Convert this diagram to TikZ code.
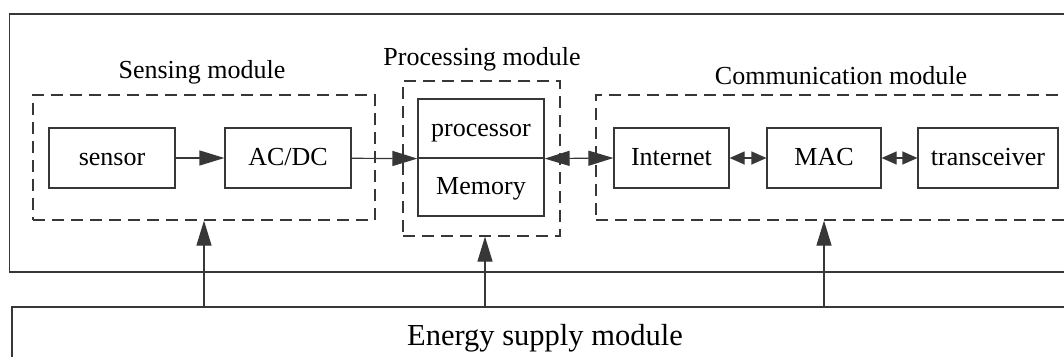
\documentclass[tikz,border=0pt]{standalone}
\usepackage{fontspec}
\setmainfont{Liberation Serif}
\usepackage{tikz}
\usetikzlibrary{arrows.meta}
\usetikzlibrary{positioning}
\definecolor{linegray}{RGB}{55,55,55}
\newcommand{\boxfont}{\fontsize{26}{30}\selectfont}
\newcommand{\energyfont}{\fontsize{30.5}{34}\selectfont}

\begin{document}
\begin{tikzpicture}[x=1pt,y=-1pt,
    unit node/.style={draw=linegray,line width=1.2pt,minimum height=60pt,inner sep=0pt,text height=19.5pt,text depth=3.9pt,font=\boxfont},
    module node/.style={draw=linegray,line width=1.2pt,dash pattern=on 12pt off 7pt,inner sep=0pt},
    label node/.style={anchor=base,font=\boxfont},
    big arrow/.style={draw=linegray,line width=1.2pt,-{Triangle[length=25pt,width=15pt]}},
    big both/.style={draw=linegray,line width=1.2pt,{Triangle[length=25pt,width=15pt]}-{Triangle[length=25pt,width=15pt]}},
    small both/.style={draw=linegray,line width=1.2pt,{Triangle[length=15pt,width=13pt]}-{Triangle[length=15pt,width=13pt]}}]
    \useasboundingbox (0,0) rectangle (1064,356);

    % outer node and energy supply
    \node[draw=linegray,line width=1.2pt,minimum width=1068.5pt,minimum height=258pt] (wsn) at (543.75,143) {};
    \node[draw=linegray,line width=1.2pt,minimum width=1066pt,minimum height=62pt,font=\energyfont] (energy) at (545,338) {Energy supply module};

    % modules
    \node[module node,minimum width=342pt,minimum height=125pt] (sensing) at (204,157.5) {};
    \node[module node,minimum width=157pt,minimum height=155pt] (processing) at (481.5,158.5) {};
    \node[module node,minimum width=482pt,minimum height=125pt] (communication) at (837,157.5) {};

    \node[label node] (senselabel) at (202,78) {Sensing module};
    \node[label node] (proclabel) at (482,65) {Processing module};
    \node[label node] (commlabel) at (841,84) {Communication module};

    % units
    \node[unit node,minimum width=126pt] (sensor) at (112,158) {sensor};
    \node[unit node,minimum width=126pt] (acdc) [right of=sensor,node distance=176pt] {AC/DC};

    \node[unit node,minimum width=126pt,minimum height=59pt] (proc) at (481,128.5) {processor};
    \node[unit node,minimum width=126pt,minimum height=58pt] (mem) at (481,187) {Memory};

    \node[unit node,minimum width=115pt] (internet) at (671.5,158) {Internet};
    \node[unit node,minimum width=114pt] (mac) at (824,158) {MAC};
    \node[unit node,minimum width=140pt] (trans) at (988,158) {transceiver};

    \path (sensor) edge[big arrow] (acdc)
    (acdc) edge[big arrow] (proc.south west)
    (proc.south east) edge[big both] (internet.west)
    (internet) edge[small both] (mac)
    (mac) edge[small both] (trans);

    \path ([xshift=3.5pt]energy.north -| processing.south) edge[big arrow] ([xshift=3.5pt]processing.south)
    (energy.north -| sensing.south) edge[big arrow] (sensing.south)
    (energy.north -| mac) edge[big arrow] (communication.south -| mac);
  \end{tikzpicture}
\end{document}
